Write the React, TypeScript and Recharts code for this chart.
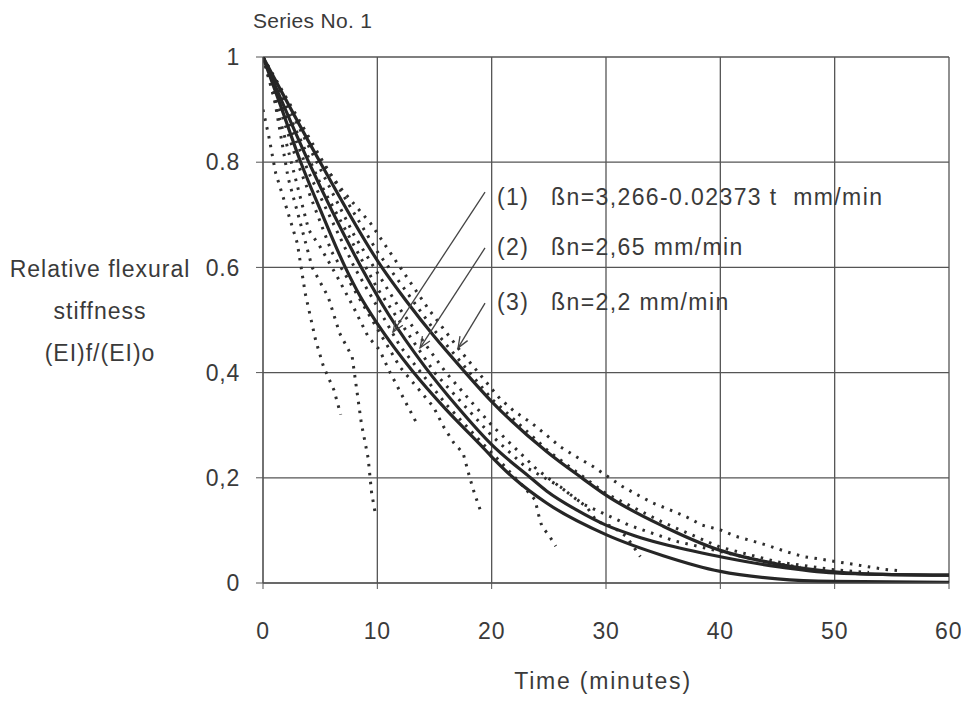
import { LineChart, Line, XAxis, YAxis, CartesianGrid, ReferenceLine } from "recharts";

type Pt = [number, number];

// axis ticks
const xTicks = [0, 10, 20, 30, 40, 50, 60];
const yTicks = [0, 0.2, 0.4, 0.6, 0.8, 1];
const yTickLabels = ["0", "0,2", "0,4", "0.6", "0.8", "1"];

// calculated curves (time min, relative stiffness)
const model1: Pt[] = [
  [0, 1], [1.5, 0.91], [3.3, 0.8], [5.2, 0.7], [7.2, 0.6], [8.5, 0.545], [10, 0.493],
  [11.5, 0.447], [13, 0.405], [16, 0.33], [19, 0.263], [20, 0.24], [21.9, 0.2],
  [24.8, 0.152], [30, 0.092], [35, 0.052], [40, 0.022], [45, 0.008], [50, 0.003], [60, 0.001],
];
const model2: Pt[] = [
  [0, 1], [4, 0.8], [8.6, 0.6], [11, 0.51], [14.2, 0.41], [17, 0.335], [20, 0.263],
  [23.4, 0.2], [24.8, 0.175], [27.5, 0.138], [30, 0.11], [32.5, 0.09], [35, 0.074],
  [40, 0.05], [45, 0.031], [50, 0.019], [55, 0.016], [60, 0.015],
];
const model3: Pt[] = [
  [0, 1], [5, 0.8], [10.4, 0.6], [12.5, 0.537], [15, 0.468], [17.5, 0.405], [20, 0.345],
  [24.8, 0.25], [28, 0.198], [30, 0.167], [35, 0.108], [40, 0.062], [45, 0.036],
  [50, 0.021], [55, 0.016], [60, 0.015],
];

// test results
const testA: Pt[] = [
  [0, 0.9], [0.5, 0.85], [1.1, 0.78], [2.1, 0.71], [3, 0.646], [3.7, 0.55],
  [4.6, 0.462], [5.3, 0.411], [6.2, 0.367], [6.8, 0.32],
];
const testB: Pt[] = [
  [0, 1], [1, 0.92], [2.2, 0.77], [3.2, 0.69], [4.3, 0.6], [5.7, 0.544], [6.7, 0.475],
  [7.8, 0.43], [8.2, 0.367], [8.6, 0.304], [9.2, 0.237], [9.5, 0.171], [9.8, 0.135],
];
const testC: Pt[] = [
  [0, 1], [2, 0.84], [4, 0.671], [5, 0.639], [6.5, 0.582], [7.9, 0.525], [9.2, 0.468],
  [10.2, 0.443], [11, 0.405], [12.3, 0.351], [13.6, 0.297],
];
const testD: Pt[] = [
  [0, 1], [3, 0.8], [6, 0.63], [9, 0.52], [12, 0.41], [14.9, 0.335], [15.8, 0.297],
  [16.7, 0.266], [17.5, 0.247], [18.1, 0.199], [18.5, 0.17], [19, 0.139],
];
const testE: Pt[] = [
  [0, 1], [4, 0.78], [8, 0.6], [12, 0.45], [16, 0.34], [19, 0.27], [21, 0.225],
  [22.5, 0.19], [23.8, 0.158], [24.1, 0.13], [24.4, 0.107], [25, 0.091], [25.6, 0.07],
];
const testF: Pt[] = [
  [0, 1], [2.5, 0.9], [5.1, 0.8], [7, 0.745], [9.4, 0.684], [12, 0.6], [14.5, 0.52],
  [17.2, 0.443], [20.7, 0.351], [22, 0.326], [23.5, 0.304], [24.8, 0.281], [26, 0.259],
  [27.4, 0.24], [28.9, 0.221], [31.4, 0.184], [32.8, 0.167], [34.1, 0.152], [35.6, 0.139],
  [37.1, 0.125], [38.4, 0.11], [40, 0.101], [41.3, 0.089], [42.8, 0.08], [44.2, 0.071],
  [45.7, 0.06], [47.3, 0.05], [48.6, 0.046], [50, 0.041], [51.5, 0.036], [52.9, 0.031],
  [54.4, 0.026], [55.7, 0.023],
];
const testG: Pt[] = [
  [0, 1], [5, 0.76], [10, 0.56], [15, 0.4], [20, 0.28], [23, 0.22], [26, 0.183],
  [27.1, 0.164], [28.3, 0.145], [29.2, 0.117], [30.6, 0.107], [31.8, 0.088], [33, 0.05],
];
const testH: Pt[] = [
  [0, 1], [4, 0.83], [8, 0.66], [12, 0.52], [16, 0.4], [20, 0.3], [24, 0.215],
  [28, 0.15], [32, 0.11], [36, 0.08], [40, 0.06], [44, 0.04], [47, 0.03],
];
const testI: Pt[] = [
  [0, 1], [5, 0.81], [10, 0.63], [15, 0.48], [20, 0.35], [25, 0.25], [30, 0.17],
  [35, 0.115], [40, 0.068], [45, 0.04], [50, 0.025], [53, 0.02],
];

// arrows from the notes to the curves: [start, tip]
const arrows: [Pt, Pt][] = [
  [[19.42, 0.743], [11.37, 0.477]],
  [[19.42, 0.637], [13.74, 0.447]],
  [[19.42, 0.532], [17.06, 0.447]],
];
const notes = [
  { tag: "(1)", text: "ßn=3,266-0.02373 t  mm/min" },
  { tag: "(2)", text: "ßn=2,65 mm/min" },
  { tag: "(3)", text: "ßn=2,2 mm/min" },
];

const models = [model1, model2, model3];
const tests = [testA, testB, testC, testD, testE, testF, testG, testH, testI];

const toRows = (pts: Pt[]) => pts.map(([t, v]) => ({ t, v }));

const font = '"Liberation Sans", Arial, Helvetica, sans-serif';
const ink = "#262626";
const textInk = "#3a3a3a";
const fs = 23;

const Arrow = (props: any) => {
  const { x1, y1, x2, y2 } = props;
  const a = Math.atan2(y2 - y1, x2 - x1);
  const len = 12;
  const s = 0.38;
  const p1 = `${x2 - len * Math.cos(a - s)},${y2 - len * Math.sin(a - s)}`;
  const p3 = `${x2 - len * Math.cos(a + s)},${y2 - len * Math.sin(a + s)}`;
  return (
    <g>
      <line x1={x1} y1={y1} x2={x2} y2={y2} stroke="#444" strokeWidth={1.3} />
      <polyline points={`${p1} ${x2},${y2} ${p3}`} fill="none" stroke="#444" strokeWidth={1.3} />
    </g>
  );
};

const txt = (extra: React.CSSProperties): React.CSSProperties => ({
  position: "absolute",
  fontFamily: font,
  fontSize: fs,
  color: textInk,
  letterSpacing: 1.4,
  whiteSpace: "pre",
  lineHeight: 1,
  ...extra,
});

export default function App() {
  return (
    <div style={{ position: "relative", width: 953, height: 693, background: "#fff" }}>
      <LineChart width={953} height={685} margin={{ top: 49, right: 12, left: 195, bottom: 50 }}>
        <CartesianGrid stroke="#555" strokeWidth={1.3} />
        <XAxis
          type="number"
          dataKey="t"
          domain={[0, 60]}
          ticks={xTicks}
          allowDataOverflow
          height={60}
          stroke="#555"
          tickSize={6}
          tickMargin={34}
          tick={{ fill: textInk, fontSize: fs, fontFamily: font, letterSpacing: 0.8 }}
        />
        <YAxis
          type="number"
          dataKey="v"
          domain={[0, 1]}
          ticks={yTicks}
          allowDataOverflow
          width={60}
          stroke="#555"
          tickSize={7}
          tickMargin={16}
          tickFormatter={(v: number) => yTickLabels[yTicks.indexOf(v)] ?? String(v)}
          tick={{ fill: textInk, fontSize: fs, fontFamily: font, letterSpacing: 0.8 }}
        />
        {tests.map((d, i) => (
          <Line
            key={`test${i}`}
            data={toRows(d)}
            dataKey="v"
            type="linear"
            stroke="#2e2e2e"
            strokeWidth={3}
            strokeDasharray="2.5 6.5"
            dot={false}
            activeDot={false}
            isAnimationActive={false}
          />
        ))}
        {models.map((d, i) => (
          <Line
            key={`model${i}`}
            data={toRows(d)}
            dataKey="v"
            type="monotone"
            stroke={ink}
            strokeWidth={3.2}
            dot={false}
            activeDot={false}
            isAnimationActive={false}
          />
        ))}
        {arrows.map(([a, b], i) => (
          <ReferenceLine
            key={`arrow${i}`}
            segment={[{ x: a[0], y: a[1] }, { x: b[0], y: b[1] }]}
            shape={Arrow}
          />
        ))}
      </LineChart>

      <div style={txt({ left: 245, top: 12, fontSize: 21, letterSpacing: 0.3, transform: "translateY(-50%)" })}>
        Series No. 1
      </div>

      <div
        style={txt({
          left: 92,
          top: 252,
          transform: "translate(-50%, -12px)",
          textAlign: "center",
          lineHeight: "42px",
          letterSpacing: 1,
        })}
      >
        {"Relative flexural\nstiffness\n(EI)f/(EI)o"}
      </div>

      <div style={txt({ left: 595, top: 673, letterSpacing: 1.8, transform: "translate(-50%, -50%)" })}>
        Time (minutes)
      </div>

      {notes.map((n, i) => (
        <div key={n.tag}>
          <div style={txt({ left: 489, top: [189, 239, 294][i], transform: "translateY(-50%)" })}>{n.tag}</div>
          <div style={txt({ left: 543, top: [189, 239, 294][i], transform: "translateY(-50%)" })}>{n.text}</div>
        </div>
      ))}
    </div>
  );
}
